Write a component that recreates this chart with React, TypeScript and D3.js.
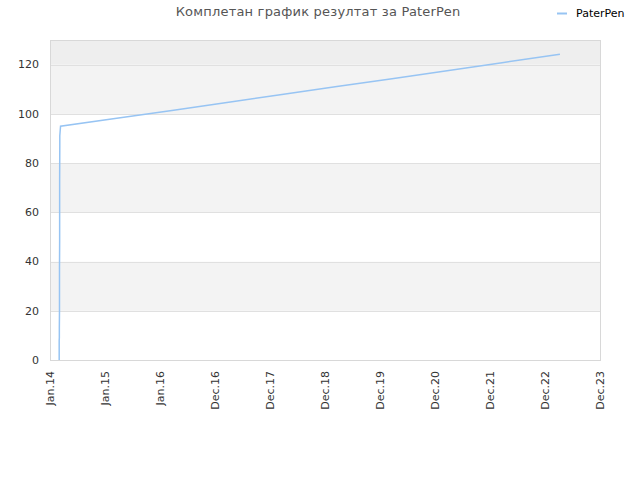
import * as d3 from "d3";
import { useEffect, useRef } from "react";

const title = "Комплетан график резултат за PaterPen";
const seriesName = "PaterPen";

// results per date
const dates = [
    "2014-03-03", "2014-03-03", "2014-03-03", "2014-03-04", "2014-03-04", "2014-03-04",
    "2014-03-05", "2014-03-05", "2014-03-05", "2014-03-06", "2014-03-06", "2014-03-06",
    "2014-03-07", "2014-03-07", "2014-03-12", "2015-03-20", "2016-03-20", "2017-03-20",
    "2018-03-20", "2019-03-20", "2020-03-20", "2021-03-20", "2022-03-20", "2023-04-08",
];
const values = [
    0, 6, 8, 9, 11, 13,
    20, 28, 37, 48, 60, 73,
    87, 91, 95, 98.2, 101.4, 104.6,
    107.9, 111.1, 114.3, 117.5, 120.8, 124.2,
];
const yTicks = [0, 20, 40, 60, 80, 100, 120];

const W = 640;
const H = 480;
const margin = { left: 50, top: 40, right: 40, bottom: 120 };

export default function App() {
    const svgRef = useRef<SVGSVGElement>(null);

    useEffect(() => {
        if (svgRef.current) draw();
    }, []);

    const draw = () => {
        const svg = d3.select(svgRef.current);
        svg.selectAll("*").remove();
        const innerW = W - margin.left - margin.right;
        const innerH = H - margin.top - margin.bottom;
        const start = new Date(2014, 0, 1);
        const end = d3.timeDay.offset(start, 3650);

        const x = d3.scaleTime().domain([start, end]).range([0, innerW]);
        const y = d3.scaleLinear().domain([0, 130]).range([innerH, 0]);
        const xTicks = d3.range(11).map((i) => d3.timeDay.offset(start, i * 365));

        const chart = svg
            .append("g")
            .attr("transform", "translate(" + margin.left + "," + margin.top + ")");

        // alternating bands
        const bands = [0, 20, 40, 60, 80, 100, 120];
        chart
            .selectAll("rect.band")
            .data(bands)
            .enter()
            .append("rect")
            .attr("x", 0)
            .attr("width", innerW)
            .attr("y", (d) => y(Math.min(d + 20, 130)))
            .attr("height", (d) => y(d) - y(Math.min(d + 20, 130)))
            .attr("fill", (d, i) => (d === 120 ? "#eeeeee" : i % 2 ? "#f3f3f3" : "#ffffff"));

        // grid lines
        chart
            .selectAll("line.grid")
            .data(yTicks.slice(1))
            .enter()
            .append("line")
            .attr("x1", 0)
            .attr("x2", innerW)
            .attr("y1", (d) => Math.round(y(d)) + 0.5)
            .attr("y2", (d) => Math.round(y(d)) + 0.5)
            .attr("stroke", "#e0e0e0");

        // frame
        chart
            .append("rect")
            .attr("x", 0.5)
            .attr("y", 0.5)
            .attr("width", innerW)
            .attr("height", innerH)
            .attr("fill", "none")
            .attr("stroke", "#d8d8d8");

        // y labels
        chart
            .selectAll("text.y")
            .data(yTicks)
            .enter()
            .append("text")
            .attr("x", -11)
            .attr("y", (d) => y(d))
            .attr("dy", "0.35em")
            .attr("text-anchor", "end")
            .attr("font-size", 11)
            .attr("fill", "#333")
            .text((d) => d);

        // x labels
        const fmt = d3.timeFormat("%b.%y");
        chart
            .selectAll("text.x")
            .data(xTicks)
            .enter()
            .append("text")
            .attr("transform", (d) => "translate(" + x(d) + "," + (innerH + 11) + ") rotate(-90)")
            .attr("dy", "0.35em")
            .attr("text-anchor", "end")
            .attr("font-size", 11)
            .attr("fill", "#333")
            .text((d) => fmt(d));

        // line
        const parse = d3.timeParse("%Y-%m-%d");
        const points = dates.map((d, i) => [parse(d) as Date, values[i]] as [Date, number]);
        chart
            .append("path")
            .datum(points)
            .attr("fill", "none")
            .attr("stroke", "#97c4f3")
            .attr("stroke-width", 1.5)
            .attr(
                "d",
                d3
                    .line<[Date, number]>()
                    .x((d) => x(d[0]))
                    .y((d) => y(d[1]))
            );

        // title
        svg.append("text")
            .attr("x", 318)
            .attr("y", 16)
            .attr("text-anchor", "middle")
            .attr("font-size", 13)
            .attr("letter-spacing", 0.2)
            .attr("fill", "#555")
            .text(title);

        // legend
        svg.append("line")
            .attr("x1", 557)
            .attr("x2", 567)
            .attr("y1", 13.5)
            .attr("y2", 13.5)
            .attr("stroke", "#97c4f3")
            .attr("stroke-width", 2);
        svg.append("text")
            .attr("x", 576)
            .attr("y", 17)
            .attr("font-size", 11)
            .attr("fill", "#000")
            .text(seriesName);
    };

    return (
        <svg
            ref={svgRef}
            width={W}
            height={H}
            style={{ position: "absolute", left: 0, top: 0, fontFamily: "DejaVu Sans", background: "#fff" }}
        />
    );
}
